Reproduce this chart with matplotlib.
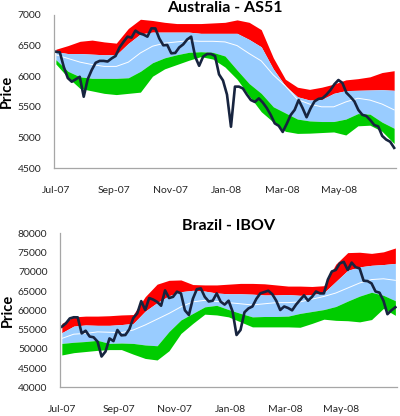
import matplotlib
matplotlib.use("Agg")
import matplotlib.pyplot as plt
import pandas as pd

plt.rcParams['font.family'] = ['Lato', 'DejaVu Sans']

# Australia - AS51 (price and bands)
aus_price = [6400, 6390, 6150, 5970, 5910, 5950, 5990, 5665, 5950, 6100,
             6220, 6250, 6250, 6240, 6290, 6330, 6470, 6560, 6646, 6630,
             6745, 6700, 6680, 6646, 6782, 6780, 6615, 6505, 6510, 6374,
             6380, 6470, 6520, 6600, 6646, 6320, 6170, 6320, 6363, 6363,
             6330, 6030, 5930, 5700, 5175, 5830, 5830, 5800, 5700, 5611,
             5580, 5638, 5570, 5480, 5366, 5230, 5190, 5090, 5220, 5366,
             5450, 5611, 5480, 5330, 5475, 5590, 5630, 5640, 5700, 5774,
             5870, 5938, 5890, 5730, 5665, 5590, 5450, 5370, 5350, 5284,
             5203, 5180, 5025, 4965, 4930, 4830]
aus_up2 = [6440, 6500, 6570, 6590, 6560, 6540, 6780, 6930, 6910, 6880,
           6860, 6860, 6860, 6870, 6880, 6920, 6880, 6760, 6300, 5950,
           5820, 5785, 5820, 5870, 5940, 5960, 5990, 6060, 6090]
aus_up1 = [6400, 6370, 6370, 6360, 6350, 6350, 6537, 6690, 6720, 6720,
           6720, 6720, 6700, 6700, 6700, 6700, 6600, 6480, 6118, 5840,
           5665, 5611, 5620, 5720, 5765, 5770, 5775, 5780, 5770]
aus_mid = [6350, 6290, 6230, 6190, 6160, 6160, 6230, 6380, 6490, 6540,
           6560, 6580, 6570, 6570, 6560, 6500, 6370, 6250, 6020, 5840,
           5620, 5545, 5500, 5500, 5580, 5640, 5610, 5545, 5450]
aus_dn1 = [6270, 6080, 5990, 5965, 5965, 5965, 5975, 6080, 6220, 6300,
           6350, 6390, 6400, 6390, 6330, 6100, 5880, 5720, 5500, 5400,
           5300, 5270, 5260, 5260, 5300, 5390, 5380, 5250, 5150]
aus_dn2 = [6200, 5980, 5800, 5760, 5720, 5700, 5720, 5740, 6000, 6120,
           6190, 6260, 6320, 6280, 6150, 5950, 5680, 5420, 5250, 5100,
           5066, 5070, 5080, 5090, 5040, 5190, 5200, 5100, 4900]

# Brazil - IBOV
bra_price = [55760, 56600, 57900, 58200, 58180, 54000, 54700, 53200, 53000, 51860,
             48000, 49300, 52700, 52000, 54890, 53500, 53590, 55100, 58000, 59220,
             62400, 60100, 63200, 62800, 62200, 61200, 65200, 63200, 63500, 64850,
             64400, 60000, 58800, 63000, 65500, 65710, 63500, 62300, 62500, 64400,
             62250, 61500, 62500, 59700, 53590, 54890, 59500, 60500, 61000, 63000,
             64420, 64750, 65100, 64200, 62500, 60090, 61000, 60600, 60000, 61500,
             62700, 63900, 62500, 63500, 64900, 64400, 64400, 68000, 70100, 70500,
             72210, 72600, 70500, 72400, 71200, 70900, 67700, 67600, 67000, 64900,
             64600, 62500, 59000, 60000, 60800]
bra_up2 = [56600, 58300, 58500, 58500, 58600, 58800, 58900, 63550, 66800, 67800,
           67900, 66700, 66600, 66600, 66800, 67000, 67000, 66900, 66600, 66300,
           66300, 66200, 66400, 72000, 75000, 75100, 74800, 75200, 76200]
bra_up1 = [54200, 55900, 56200, 56100, 56100, 56300, 56600, 59800, 62000, 63800,
           64850, 65200, 65000, 64500, 64300, 64300, 64200, 64000, 64000, 64100,
           63900, 64100, 64600, 67500, 70400, 71300, 71700, 71900, 72200]
bra_mid = [52700, 53800, 54000, 54400, 54300, 54200, 54900, 56200, 57700, 59200,
           60900, 62200, 62600, 62300, 62000, 61700, 61400, 61700, 62000, 62000,
           62200, 62900, 63600, 64500, 65800, 67100, 68000, 68200, 67800]
bra_dn1 = [51400, 51700, 51900, 52200, 51400, 51500, 51400, 51000, 50800, 54500,
           57500, 59200, 60900, 61300, 60200, 59200, 58300, 58400, 58400, 58500,
           59200, 59700, 60200, 61000, 62400, 63700, 64700, 63900, 62500]
bra_dn2 = [48400, 49000, 49300, 49600, 49800, 49800, 48600, 47500, 47100, 49500,
           54000, 56600, 59000, 58800, 58300, 57000, 55700, 55700, 55700, 55700,
           55600, 56600, 57700, 57400, 57300, 57000, 57600, 60500, 58700]

start, end = '2007-07-01', '2008-06-29'
tick_dates = pd.to_datetime(['2007-07-01', '2007-09-01', '2007-11-01',
                             '2008-01-01', '2008-03-01', '2008-05-01'])
tick_labels = ['Jul-07', 'Sep-07', 'Nov-07', 'Jan-08', 'Mar-08', 'May-08']

fig = plt.figure(figsize=(4, 4.16), dpi=100)
ax1 = fig.add_axes([0.135, 0.596, 0.855, 0.368])
ax2 = fig.add_axes([0.15, 0.069, 0.843, 0.370])

panels = [
    (ax1, 'Australia - AS51', aus_price, aus_up2, aus_up1, aus_mid, aus_dn1, aus_dn2,
     (4500, 7000), 500, -0.137),
    (ax2, 'Brazil - IBOV', bra_price, bra_up2, bra_up1, bra_mid, bra_dn1, bra_dn2,
     (40000, 80000), 5000, -0.154),
]

for ax, title, price, up2, up1, mid, dn1, dn2, ylim, step, lab_x in panels:
    d_price = pd.date_range(start, end, periods=len(price))
    d_band = pd.date_range(start, end, periods=len(mid))
    ax.fill_between(d_band, up1, up2, color='#ff0000', lw=0)
    ax.fill_between(d_band, dn1, up1, color='#99ccff', lw=0)
    ax.fill_between(d_band, dn2, dn1, color='#00cc00', lw=0)
    ax.plot(d_band, mid, color='white', lw=0.7)
    ax.plot(d_price, price, color='#17243f', lw=1.9)

    ax.set_ylim(*ylim)
    ax.set_yticks(range(ylim[0], ylim[1] + 1, step))
    ax.set_xlim(pd.Timestamp('2007-06-29'), pd.Timestamp('2008-07-01'))
    ax.set_xticks(tick_dates)
    ax.set_xticklabels(tick_labels)
    ax.tick_params(axis='both', length=0, labelsize=7.5, colors='#262626')
    ax.tick_params(axis='x', pad=13)
    ax.tick_params(axis='y', pad=9)
    for s in ['top', 'right']:
        ax.spines[s].set_visible(False)
    for s in ['left', 'bottom']:
        ax.spines[s].set_color('#a6a6a6')
        ax.spines[s].set_linewidth(0.9)
    ax.set_ylabel('Price', fontsize=10.5, fontweight='bold', va='center')
    ax.yaxis.set_label_coords(lab_x, 0.5)
    ax.set_title(title, fontsize=11.5, fontweight='bold', pad=-3)

plt.savefig('out.png', dpi=100)
